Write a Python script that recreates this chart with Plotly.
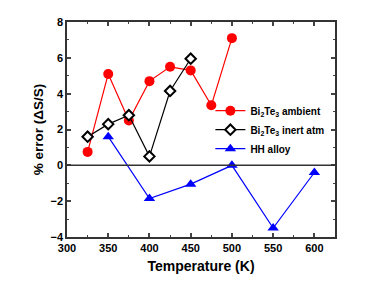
import plotly.graph_objects as go

temp_amb = [325, 350, 375, 400, 425, 450, 475, 500]
err_amb = [0.75, 5.1, 2.5, 4.7, 5.5, 5.3, 3.35, 7.1]
temp_inert = [325, 350, 375, 400, 425, 450]
err_inert = [1.6, 2.3, 2.8, 0.5, 4.15, 5.95]
temp_hh = [350, 400, 450, 500, 550, 600]
err_hh = [1.6, -1.85, -1.05, 0.0, -3.5, -0.4]

FONT = "Liberation Sans, Arial, sans-serif"

fig = go.Figure()
fig.add_trace(go.Scatter(x=temp_amb, y=err_amb, mode="lines+markers",
                         name="Bi<sub>2</sub>Te<sub>3</sub> ambient",
                         line=dict(color="#ff0000", width=1.2),
                         marker=dict(symbol="circle", size=10, color="#ff0000")))
fig.add_trace(go.Scatter(x=temp_inert, y=err_inert, mode="lines+markers",
                         name="Bi<sub>2</sub>Te<sub>3</sub> inert atm",
                         line=dict(color="#000000", width=1.2),
                         marker=dict(symbol="diamond", size=8, color="white",
                                     line=dict(color="black", width=2))))
fig.add_trace(go.Scatter(x=temp_hh, y=err_hh, mode="lines+markers",
                         name="HH alloy",
                         line=dict(color="#0000ff", width=1.2),
                         marker=dict(symbol="triangle-up", size=10, color="#0000ff")))

fig.add_shape(type="line", xref="paper", x0=0, x1=1, yref="y", y0=0, y1=0,
              line=dict(color="#333333", width=1.5))

fig.update_xaxes(range=[300, 625], tickvals=[300, 350, 400, 450, 500, 550, 600],
                 ticks="inside", ticklen=4, tickwidth=1.5, automargin=False,
                 minor=dict(dtick=25, tick0=300, ticks="inside", ticklen=2, tickwidth=1),
                 showline=True, linecolor="#333333", linewidth=1.5, mirror="ticks",
                 showgrid=False, zeroline=False,
                 tickfont=dict(family=FONT, size=11, color="black", weight="bold"),
                 title=dict(text="<b>Temperature (K)</b>", font=dict(family=FONT, size=14, color="black"), standoff=8))
fig.update_yaxes(range=[-4, 8], tickvals=[-4, -2, 0, 2, 4, 6, 8],
                 ticks="inside", ticklen=4, tickwidth=1.5, automargin=False,
                 minor=dict(dtick=1, tick0=0, ticks="inside", ticklen=2, tickwidth=1),
                 showline=True, linecolor="#333333", linewidth=1.5, mirror="ticks",
                 showgrid=False, zeroline=False,
                 tickfont=dict(family=FONT, size=11, color="black", weight="bold"),
                 title=dict(text="<b>% error (ΔS/S)</b>", font=dict(family=FONT, size=13.5, color="black"), standoff=4))

# page body has an 8px default margin; figure sized so the plot area lands where the reference has it
fig.update_layout(width=358, height=268, margin=dict(l=59, r=31, t=14, b=39),
                  plot_bgcolor="white", paper_bgcolor="white",
                  legend=dict(x=0.535, y=0.655, xanchor="left", yanchor="top",
                              bgcolor="rgba(0,0,0,0)", tracegroupgap=0,
                              font=dict(family=FONT, size=10, color="black", weight="bold"),
                              itemwidth=30))

fig.write_html("out.html")
